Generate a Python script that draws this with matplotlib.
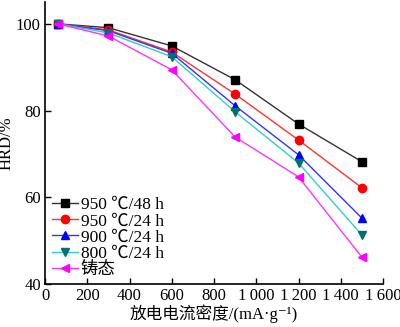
import matplotlib
matplotlib.use("Agg")
import matplotlib.pyplot as plt

plt.rcParams['font.family'] = ['Liberation Serif', 'Noto Sans CJK SC', 'DejaVu Serif']

# 放电电流密度 (mA/g)
current = [60, 300, 600, 900, 1200, 1500]

# HRD/% 各处理状态
hrd_950_48 = [100, 99.1, 94.9, 87.1, 76.9, 68.2]
hrd_950_24 = [100, 98.6, 93.5, 83.8, 73.2, 62.2]
hrd_900_24 = [100, 98.4, 93.2, 81.1, 69.8, 55.2]
hrd_800_24 = [100, 97.9, 92.4, 79.7, 67.9, 51.3]
hrd_cast = [100, 97.2, 89.4, 73.9, 64.7, 46.2]

labels = ['950 ℃/48 h', '950 ℃/24 h', '900 ℃/24 h', '800 ℃/24 h', '铸态']
xticks = [0, 200, 400, 600, 800, 1000, 1200, 1400, 1600]
xtick_labels = ['0', '200', '400', '600', '800', '1\u2009000', '1\u2009200', '1\u2009400', '1\u2009600']

fig = plt.figure(figsize=(4, 3.27), dpi=100)
ax = fig.add_axes([0.1125, 0.1315, 0.845, 0.862])

series = [hrd_950_48, hrd_950_24, hrd_900_24, hrd_800_24, hrd_cast]
line_colors = ['#333333', '#ff3333', '#3333ff', '#33cccc', '#ff33ff']
marker_colors = ['black', 'red', 'blue', '#007070', 'magenta']
markers = ['s', 'o', '^', 'v', '<']

for y, lc, mc, m, lab in zip(series, line_colors, marker_colors, markers, labels):
    ax.plot(current, y, color=lc, lw=1, marker=m, markersize=6,
            markerfacecolor=mc, markeredgecolor=mc, label=lab)

ax.set_xlim(0, 1600)
ax.set_ylim(40, 105)
ax.set_xticks(xticks)
ax.set_xticklabels(xtick_labels)
ax.set_yticks([40, 60, 80, 100])
ax.tick_params(direction='in', labelsize=12, length=4, width=1, pad=3)
ax.spines['top'].set_visible(False)
ax.spines['right'].set_visible(False)
ax.spines['left'].set_linewidth(1.2)
ax.spines['bottom'].set_linewidth(1.2)

ax.set_xlabel('放电电流密度/(mA·g⁻¹)', fontsize=12, labelpad=0)
ax.set_ylabel('HRD/%', fontsize=12, labelpad=1)

leg = ax.legend(loc='lower left', bbox_to_anchor=(-0.01, -0.015), frameon=False,
                fontsize=12.5, handlelength=1.5, handletextpad=0.15,
                labelspacing=0.0, borderaxespad=0.2)

fig.savefig('out.png', dpi=100)
